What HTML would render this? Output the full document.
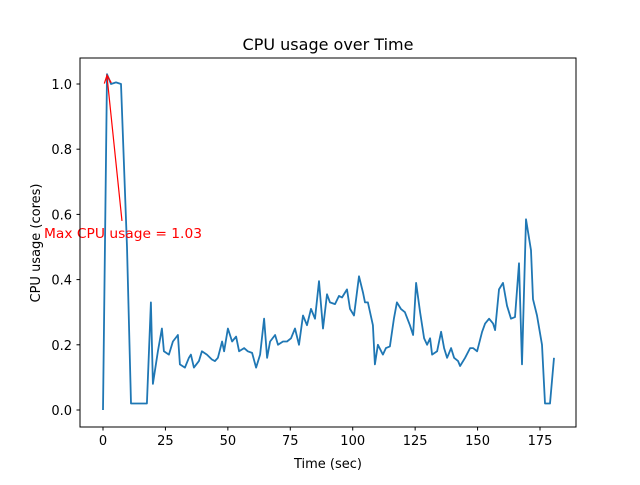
<!DOCTYPE html>
<html><head><meta charset="utf-8"><style>
body{margin:0;background:#fff}
svg text{font-family:"DejaVu Sans","Liberation Sans",sans-serif}
</style></head><body>
<svg id="chart" width="640" height="480" xmlns="http://www.w3.org/2000/svg">
<rect width="640" height="480" fill="#fff"/>
<text x="328" y="50" font-size="16" text-anchor="middle">CPU usage over Time</text>
<g id="plot"></g>
<rect x="80" y="58" width="496" height="369" fill="none" stroke="#000" stroke-width="1"/>
<text x="328" y="468" font-size="13" text-anchor="middle">Time (sec)</text>
<text x="0" y="0" font-size="13" text-anchor="middle" transform="translate(40,243) rotate(-90)">CPU usage (cores)</text>
</svg>
<script>
const times=[0,1.6,3.2,5.2,7.2,9.6,11.2,14,17.6,19.2,20,22,23.6,24.4,26.4,28,30,30.8,32.8,34.4,35.2,36.4,38.4,39.6,41.6,43.6,44.8,46,47.7,48.5,50,51.7,53.3,54.5,56.5,58,59.7,61.3,62.9,64.5,65.7,66.9,68.9,70.1,72.1,73.7,75.3,76.9,78.5,80.1,81.7,83.3,84.9,86.5,88.1,89.7,90.9,92.9,94.5,95.7,97.7,98.9,100.5,102.5,104.1,104.9,106.1,108.1,108.9,110.1,112.1,113.3,114.9,116.5,117.7,119.3,120.9,122.9,124.2,125.4,127,128.6,129.8,131,131.8,133.8,135.4,136.6,137.8,139.4,140.6,142.2,143,145,147,148.2,149.8,151.8,153,154.6,156.2,157,158.6,160.2,161.8,163.4,165,166.6,167.8,169.4,171.4,172.2,173.8,175.8,177,179,180.6];
const cpu=[0,1.03,1.0,1.005,1.0,0.5,0.02,0.02,0.02,0.33,0.08,0.18,0.25,0.18,0.17,0.21,0.23,0.14,0.13,0.16,0.17,0.13,0.15,0.18,0.17,0.155,0.15,0.16,0.21,0.18,0.25,0.21,0.225,0.18,0.19,0.18,0.175,0.13,0.17,0.28,0.16,0.21,0.23,0.2,0.21,0.21,0.22,0.25,0.2,0.29,0.26,0.31,0.28,0.395,0.25,0.355,0.33,0.325,0.35,0.345,0.37,0.31,0.29,0.41,0.36,0.33,0.33,0.26,0.14,0.2,0.17,0.19,0.195,0.28,0.33,0.31,0.3,0.26,0.23,0.39,0.3,0.22,0.2,0.22,0.17,0.18,0.24,0.19,0.16,0.19,0.16,0.15,0.135,0.16,0.19,0.19,0.18,0.24,0.265,0.28,0.265,0.245,0.37,0.39,0.32,0.28,0.285,0.45,0.14,0.585,0.49,0.34,0.29,0.2,0.02,0.02,0.16];
const xTicks=[0,25,50,75,100,125,150,175];
const yTicks=[0.0,0.2,0.4,0.6,0.8,1.0];
const maxVal=1.03, maxTime=1.6;
const NS="http://www.w3.org/2000/svg";
function sx(t){return 103+t*(437/175);}
function sy(v){return 410-v*326;}
const g=document.getElementById('plot');
function mk(tag,attrs){const e=document.createElementNS(NS,tag);for(const k in attrs)e.setAttribute(k,attrs[k]);g.appendChild(e);return e;}
xTicks.forEach(t=>{
  const l=mk('line',{x1:sx(t),x2:sx(t),y1:427,y2:430.5,stroke:'#000'});
  
  
  const tx=mk('text',{x:sx(t),y:445,'font-size':13,'text-anchor':'middle'});tx.textContent=t;
  
  
});
yTicks.forEach(v=>{
  const l=mk('line',{x1:76.5,x2:80,y1:sy(v),y2:sy(v),stroke:'#000'});
  
  
  const tx=mk('text',{x:72,y:sy(v)+5,'font-size':13,'text-anchor':'end'});tx.textContent=v.toFixed(1);
  
  
});
const pts=times.map((t,i)=>sx(t).toFixed(1)+','+sy(cpu[i]).toFixed(1)).join(' ');
const line=mk('polyline',{points:pts,fill:'none',stroke:'#1f77b4','stroke-width':1.8,'stroke-linejoin':'round'});


const ax=sx(maxTime), ay=sy(maxVal);
const tailX=sx(7.6), tailY=sy(0.58);
const arr=mk('line',{x1:tailX,y1:tailY,x2:ax,y2:ay+2,stroke:'red','stroke-width':1.2});


const ang=Math.atan2(ay-tailY,ax-tailX);
const hx=ax,hy=ay+1;
const p1=[hx-8*Math.cos(ang)+3.5*Math.sin(ang),hy-8*Math.sin(ang)-3.5*Math.cos(ang)];
const p2=[hx-8*Math.cos(ang)-3.5*Math.sin(ang),hy-8*Math.sin(ang)+3.5*Math.cos(ang)];
const head=mk('polyline',{points:`${p1[0]},${p1[1]} ${hx},${hy} ${p2[0]},${p2[1]}`,fill:'none',stroke:'red','stroke-width':1.2});


const at=mk('text',{x:44,y:238,'font-size':13,fill:'red',textLength:158,lengthAdjust:'spacingAndGlyphs'});
at.textContent='Max CPU usage = '+maxVal.toFixed(2);


</script>
</body></html>
